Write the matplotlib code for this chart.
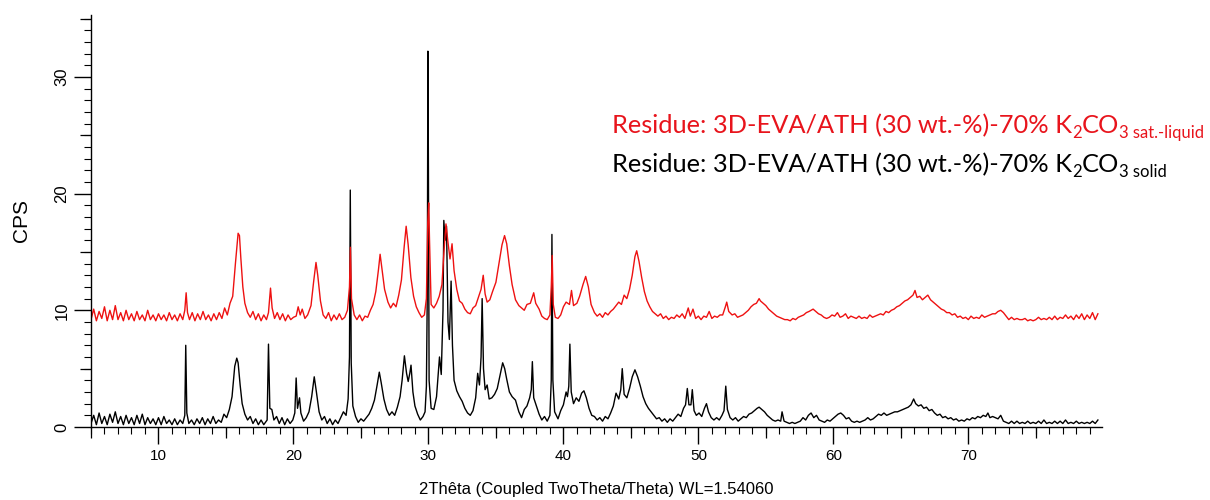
import matplotlib
matplotlib.use("Agg")
import matplotlib.pyplot as plt
from matplotlib.ticker import MultipleLocator

plt.rcParams['font.family'] = ['Liberation Sans', 'DejaVu Sans']

# 3D-EVA/ATH (30 wt.-%)-70% K2CO3 sat.-liquid residue (red)
two_theta_liquid = [
    5.0, 5.2, 5.4, 5.6, 5.8, 6.0, 6.2, 6.4, 6.6, 6.8, 7.0, 7.2, 7.4, 7.6, 7.8, 8.0, 8.2, 8.4, 8.6, 8.8,
    9.0, 9.2, 9.4, 9.6, 9.8, 10.0, 10.2, 10.4, 10.6, 10.8, 11.0, 11.2, 11.4, 11.6, 11.8, 11.95, 12.05, 12.15,
    12.3, 12.5, 12.7, 12.9, 13.1, 13.3, 13.5, 13.7, 13.9, 14.1, 14.3, 14.5, 14.7, 14.9, 15.1, 15.3, 15.5,
    15.7, 15.9, 16.0, 16.1, 16.25, 16.4, 16.6, 16.8, 17.0, 17.2, 17.4, 17.6, 17.8, 18.0, 18.15, 18.3, 18.42,
    18.6, 18.8, 19.0, 19.2, 19.4, 19.6, 19.8, 20.0, 20.2, 20.35, 20.5, 20.65, 20.85, 21.05, 21.3, 21.5,
    21.67, 21.8, 22.0, 22.2, 22.4, 22.6, 22.8, 23.0, 23.2, 23.4, 23.6, 23.8, 24.0, 24.15, 24.22, 24.3,
    24.5, 24.7, 24.9, 25.1, 25.3, 25.5, 25.7, 25.9, 26.1, 26.3, 26.42, 26.55, 26.75, 27.0, 27.2, 27.4,
    27.6, 27.8, 28.0, 28.2, 28.35, 28.5, 28.7, 28.9, 29.1, 29.3, 29.5, 29.7, 29.85, 29.95, 30.02, 30.08,
    30.2, 30.4, 30.6, 30.8, 31.0, 31.15, 31.3, 31.45, 31.6, 31.75, 31.9, 32.1, 32.3, 32.5, 32.7, 32.9,
    33.1, 33.3, 33.5, 33.7, 33.9, 34.06, 34.2, 34.35, 34.55, 34.75, 35.0, 35.2, 35.45, 35.64, 35.8, 36.0,
    36.2, 36.45, 36.7, 36.9, 37.1, 37.3, 37.55, 37.8, 37.95, 38.2, 38.4, 38.6, 38.8, 39.0, 39.1, 39.17,
    39.25, 39.4, 39.6, 39.8, 40.0, 40.2, 40.45, 40.6, 40.75, 41.0, 41.2, 41.45, 41.65, 41.85, 42.05, 42.3,
    42.5, 42.7, 42.9, 43.1, 43.3, 43.5, 43.7, 43.9, 44.1, 44.3, 44.5, 44.7, 44.9, 45.1, 45.3, 45.43, 45.6,
    45.8, 46.0, 46.2, 46.4, 46.6, 46.8, 47.0, 47.2, 47.4, 47.6, 47.8, 48.0, 48.2, 48.4, 48.6, 48.8, 49.0,
    49.25, 49.4, 49.6, 49.8, 50.0, 50.2, 50.4, 50.6, 50.8, 51.0, 51.2, 51.4, 51.6, 51.8, 52.0, 52.1, 52.25,
    52.5, 52.7, 52.9, 53.1, 53.3, 53.5, 53.7, 53.9, 54.1, 54.3, 54.5, 54.6, 54.8, 55.0, 55.2, 55.4, 55.6,
    55.8, 56.0, 56.2, 56.4, 56.6, 56.8, 57.0, 57.2, 57.4, 57.6, 57.8, 58.0, 58.2, 58.5, 58.7, 58.9, 59.1,
    59.3, 59.5, 59.7, 59.9, 60.1, 60.3, 60.5, 60.7, 60.9, 61.1, 61.3, 61.5, 61.7, 61.9, 62.1, 62.3, 62.5,
    62.7, 62.9, 63.1, 63.3, 63.5, 63.7, 63.9, 64.1, 64.3, 64.5, 64.7, 64.9, 65.1, 65.3, 65.5, 65.7, 65.9,
    66.05, 66.2, 66.4, 66.6, 66.8, 67.0, 67.2, 67.4, 67.6, 67.8, 68.0, 68.2, 68.4, 68.6, 68.8, 69.0, 69.2,
    69.4, 69.6, 69.8, 70.0, 70.2, 70.4, 70.6, 70.8, 71.0, 71.2, 71.4, 71.6, 71.8, 72.0, 72.2, 72.4, 72.6,
    72.8, 73.0, 73.2, 73.4, 73.6, 73.8, 74.0, 74.2, 74.4, 74.6, 74.8, 75.0, 75.2, 75.4, 75.6, 75.8, 76.0,
    76.2, 76.4, 76.6, 76.8, 77.0, 77.2, 77.4, 77.6, 77.8, 78.0, 78.2, 78.4, 78.6, 78.8, 79.0, 79.2, 79.4,
    79.6,
]
cps_liquid = [
    9.2, 10.1, 9.1, 9.9, 9.3, 10.3, 9.1, 10.0, 9.2, 10.4, 9.2, 9.8, 9.1, 10.0, 9.2, 9.7, 9.1, 9.9, 9.2, 9.6,
    9.1, 10.0, 9.2, 9.6, 9.1, 9.7, 9.2, 9.6, 9.1, 9.8, 9.2, 9.6, 9.1, 9.7, 9.2, 10.0, 11.5, 9.8,
    9.2, 9.8, 9.1, 9.7, 9.2, 9.9, 9.2, 9.6, 9.1, 9.7, 9.2, 9.8, 9.3, 10.2, 9.6, 10.6, 11.2,
    14.0, 16.6, 16.4, 14.5, 12.0, 10.6, 9.8, 9.4, 9.9, 9.2, 9.7, 9.1, 9.6, 9.2, 9.8, 11.9, 10.2,
    9.3, 9.8, 9.2, 9.7, 9.1, 9.6, 9.2, 9.4, 9.5, 10.3, 9.6, 10.1, 9.3, 9.6, 10.4, 12.5,
    14.1, 13.0, 10.8, 9.6, 9.3, 9.8, 9.1, 9.6, 9.2, 9.7, 9.2, 9.4, 10.0, 12.0, 15.4, 11.0,
    9.6, 9.2, 9.6, 9.1, 9.5, 9.4, 10.0, 10.5, 11.6, 13.5, 14.8, 13.6, 11.8, 10.7, 10.2, 10.6,
    10.3, 11.3, 12.6, 15.4, 17.2, 15.6, 12.8, 11.2, 10.3, 9.8, 9.4, 9.6, 11.0, 17.5, 19.2, 16.0,
    10.5, 10.2, 10.6, 11.2, 12.2, 15.0, 17.4, 15.8, 14.4, 15.7, 13.4, 11.8, 10.8, 10.6, 10.1, 9.8,
    9.7, 10.2, 10.4, 11.1, 11.8, 13.0, 11.4, 10.7, 10.9, 11.6, 12.4, 13.8, 15.6, 16.4, 15.7, 13.8,
    12.2, 10.9, 10.4, 10.2, 10.0, 10.5, 10.6, 11.5, 10.6, 10.1, 9.5, 9.3, 9.2, 9.6, 12.0, 14.7,
    10.5, 9.4, 9.3, 9.6, 10.3, 10.7, 10.5, 11.7, 10.4, 10.6, 11.2, 12.2, 12.9, 12.0, 10.5, 9.8,
    9.5, 9.7, 9.4, 9.8, 9.6, 9.9, 10.1, 10.4, 10.7, 10.5, 11.3, 11.0, 11.8, 13.0, 14.6, 15.1, 14.2,
    12.8, 11.6, 10.8, 10.3, 9.9, 9.7, 9.5, 9.7, 9.3, 9.5, 9.2, 9.4, 9.3, 9.6, 9.4, 9.7, 9.3,
    10.2, 9.5, 10.1, 9.3, 9.5, 9.2, 9.5, 9.4, 9.9, 9.3, 9.5, 9.4, 9.6, 9.6, 10.3, 10.7, 9.9,
    9.6, 9.7, 9.4, 9.5, 9.6, 9.8, 10.0, 10.3, 10.5, 10.6, 11.0, 10.8, 10.6, 10.4, 10.1, 9.9, 9.7,
    9.5, 9.4, 9.3, 9.2, 9.2, 9.1, 9.3, 9.2, 9.4, 9.5, 9.6, 9.8, 9.9, 10.1, 9.9, 9.7, 9.6,
    9.4, 9.3, 9.4, 9.6, 9.5, 9.8, 9.4, 9.5, 9.7, 9.3, 9.5, 9.4, 9.3, 9.5, 9.3, 9.4, 9.3,
    9.6, 9.4, 9.5, 9.6, 9.7, 9.6, 9.9, 9.8, 10.0, 10.1, 10.3, 10.4, 10.6, 10.8, 10.9, 11.1, 11.3,
    11.7, 11.1, 11.2, 10.9, 11.1, 11.3, 10.9, 10.7, 10.5, 10.3, 10.1, 10.0, 9.8, 9.8, 9.6, 9.7, 9.4,
    9.5, 9.3, 9.4, 9.2, 9.5, 9.3, 9.4, 9.3, 9.6, 9.4, 9.5, 9.6, 9.7, 9.7, 9.9, 10.0, 9.8,
    9.5, 9.2, 9.4, 9.2, 9.3, 9.2, 9.2, 9.3, 9.1, 9.2, 9.1, 9.2, 9.4, 9.2, 9.3, 9.2, 9.4,
    9.2, 9.5, 9.2, 9.4, 9.3, 9.6, 9.3, 9.5, 9.2, 9.6, 9.3, 9.7, 9.2, 9.6, 9.3, 9.8, 9.2,
    9.7,
]

# 3D-EVA/ATH (30 wt.-%)-70% K2CO3 solid residue (black)
two_theta_solid = [
    5.0, 5.2, 5.4, 5.6, 5.8, 6.0, 6.2, 6.4, 6.6, 6.8, 7.0, 7.2, 7.4, 7.6, 7.8, 8.0, 8.2, 8.4, 8.6, 8.8,
    9.0, 9.2, 9.4, 9.6, 9.8, 10.0, 10.2, 10.4, 10.6, 10.8, 11.0, 11.2, 11.4, 11.6, 11.8, 11.95, 12.02, 12.1,
    12.25, 12.45, 12.65, 12.85, 13.05, 13.25, 13.45, 13.65, 13.85, 14.05, 14.25, 14.45, 14.65, 14.85,
    15.05, 15.25, 15.45, 15.65, 15.8, 15.9, 16.05, 16.2, 16.4, 16.6, 16.8, 17.0, 17.2, 17.4, 17.6, 17.8,
    18.05, 18.15, 18.25, 18.4, 18.55, 18.75, 18.95, 19.15, 19.35, 19.55, 19.75, 19.95, 20.1, 20.2, 20.3,
    20.45, 20.55, 20.75, 20.95, 21.15, 21.35, 21.54, 21.7, 21.9, 22.1, 22.3, 22.5, 22.7, 22.9, 23.1, 23.3,
    23.5, 23.7, 23.9, 24.05, 24.15, 24.21, 24.28, 24.4, 24.6, 24.8, 25.0, 25.2, 25.4, 25.6, 25.8, 26.0,
    26.2, 26.36, 26.5, 26.7, 26.9, 27.1, 27.3, 27.5, 27.7, 27.9, 28.05, 28.22, 28.38, 28.5, 28.62, 28.71,
    28.85, 29.0, 29.2, 29.4, 29.6, 29.75, 29.85, 29.92, 29.96, 30.0, 30.05, 30.2, 30.4, 30.6, 30.82,
    30.95, 31.08, 31.14, 31.24, 31.34, 31.45, 31.55, 31.68, 31.78, 31.9, 32.1, 32.3, 32.5, 32.7, 32.9,
    33.1, 33.3, 33.5, 33.65, 33.78, 33.9, 33.98, 34.08, 34.2, 34.35, 34.5, 34.7, 34.9, 35.1, 35.3, 35.5,
    35.65, 35.8, 36.0, 36.2, 36.45, 36.7, 36.9, 37.1, 37.3, 37.5, 37.62, 37.7, 37.8, 38.0, 38.2, 38.4,
    38.6, 38.8, 39.0, 39.1, 39.15, 39.22, 39.35, 39.6, 39.8, 40.0, 40.2, 40.3, 40.4, 40.48, 40.58, 40.75,
    40.95, 41.15, 41.35, 41.52, 41.7, 41.9, 42.1, 42.3, 42.5, 42.7, 42.9, 43.1, 43.3, 43.5, 43.7, 43.9,
    44.1, 44.25, 44.36, 44.5, 44.7, 44.9, 45.1, 45.3, 45.5, 45.7, 45.9, 46.1, 46.3, 46.5, 46.7, 46.9,
    47.1, 47.3, 47.5, 47.7, 47.9, 48.1, 48.3, 48.5, 48.7, 48.9, 49.05, 49.18, 49.3, 49.45, 49.55, 49.68,
    49.85, 50.05, 50.25, 50.45, 50.6, 50.75, 50.95, 51.15, 51.35, 51.55, 51.75, 51.9, 52.03, 52.15, 52.35,
    52.55, 52.75, 52.95, 53.15, 53.35, 53.55, 53.75, 53.95, 54.15, 54.35, 54.5, 54.7, 54.9, 55.1, 55.3,
    55.5, 55.7, 55.9, 56.1, 56.2, 56.35, 56.55, 56.75, 56.95, 57.15, 57.35, 57.55, 57.75, 57.95, 58.15,
    58.35, 58.55, 58.75, 58.95, 59.15, 59.35, 59.55, 59.75, 59.95, 60.15, 60.35, 60.55, 60.75, 60.95,
    61.15, 61.35, 61.55, 61.75, 61.95, 62.15, 62.35, 62.55, 62.75, 62.95, 63.15, 63.35, 63.55, 63.75,
    63.95, 64.15, 64.35, 64.55, 64.75, 64.95, 65.15, 65.35, 65.55, 65.75, 65.95, 66.1, 66.3, 66.5, 66.7,
    66.9, 67.1, 67.3, 67.5, 67.7, 67.9, 68.1, 68.3, 68.5, 68.7, 68.9, 69.1, 69.3, 69.5, 69.7, 69.9, 70.1,
    70.3, 70.5, 70.7, 70.9, 71.1, 71.3, 71.45, 71.6, 71.8, 72.0, 72.2, 72.4, 72.6, 72.8, 73.0, 73.2, 73.4,
    73.6, 73.8, 74.0, 74.2, 74.4, 74.6, 74.8, 75.0, 75.2, 75.4, 75.6, 75.8, 76.0, 76.2, 76.4, 76.6, 76.8,
    77.0, 77.2, 77.4, 77.6, 77.8, 78.0, 78.2, 78.4, 78.6, 78.8, 79.0, 79.2, 79.4, 79.6,
]
cps_solid = [
    0.3, 1.0, 0.2, 1.2, 0.3, 0.9, 0.2, 1.1, 0.4, 1.3, 0.3, 0.9, 0.2, 1.0, 0.3, 0.8, 0.2, 1.0, 0.3, 1.1,
    0.2, 0.8, 0.3, 0.7, 0.2, 0.8, 0.2, 0.9, 0.3, 0.6, 0.2, 0.7, 0.2, 0.6, 0.3, 1.0, 7.0, 1.2,
    0.3, 0.6, 0.2, 0.7, 0.3, 0.8, 0.2, 0.7, 0.3, 0.9, 0.3, 0.6, 0.4, 1.1,
    0.8, 1.5, 2.6, 5.2, 5.9, 5.5, 3.6, 2.0, 1.1, 0.6, 0.9, 0.3, 0.7, 0.2, 0.6, 0.2,
    0.6, 7.1, 1.6, 1.5, 0.6, 0.9, 0.3, 0.8, 0.2, 0.7, 0.3, 0.6, 1.2, 4.2, 1.6,
    2.5, 1.2, 0.5, 0.8, 1.3, 2.6, 4.3, 3.0, 1.3, 0.6, 0.9, 0.3, 0.7, 0.2, 0.6, 0.3,
    0.8, 1.3, 1.0, 2.4, 6.0, 20.3, 5.5, 1.8, 0.9, 0.4, 0.7, 0.5, 0.8, 1.1, 1.6, 2.3,
    3.6, 4.7, 3.8, 2.4, 1.5, 1.0, 1.3, 1.0, 1.7, 2.6, 4.0, 6.1, 4.6, 3.9, 4.6, 5.3,
    3.0, 1.8, 1.1, 0.6, 0.9, 1.3, 3.5, 12.0, 32.2, 22.0, 4.0, 1.6, 1.5, 2.6, 6.0,
    4.5, 10.0, 17.7, 16.0, 17.2, 9.0, 7.5, 12.5, 7.0, 4.0, 3.1, 2.6, 2.2, 1.6, 1.2,
    1.0, 1.4, 2.5, 4.6, 3.6, 6.0, 11.0, 5.0, 3.2, 3.6, 2.4, 2.5, 2.8, 3.3, 4.4, 5.5,
    5.0, 4.1, 3.0, 2.6, 2.3, 1.3, 0.8, 1.5, 1.8, 2.5, 3.2, 5.6, 2.5, 1.8, 1.1, 0.6,
    0.9, 0.5, 1.0, 4.0, 16.5, 4.0, 1.3, 0.7, 1.4, 1.9, 3.0, 2.6, 3.5, 7.1, 3.0, 2.0,
    2.5, 2.2, 2.9, 3.1, 2.5, 1.6, 1.0, 0.9, 0.6, 0.8, 0.5, 0.9, 0.7, 1.2, 1.8, 2.9,
    2.4, 3.2, 5.0, 2.8, 2.5, 3.3, 4.3, 4.9, 4.3, 3.5, 2.6, 2.0, 1.6, 1.3, 1.0, 0.7,
    0.8, 0.5, 0.7, 0.4, 0.7, 0.5, 0.8, 1.1, 0.9, 1.6, 1.9, 3.3, 1.9, 1.9, 3.2, 1.4,
    1.0, 1.2, 0.9, 1.6, 2.0, 1.3, 0.8, 0.6, 0.8, 0.6, 1.0, 1.4, 3.5, 1.5, 0.8,
    0.6, 0.8, 0.5, 0.7, 0.9, 0.8, 1.1, 1.2, 1.4, 1.6, 1.7, 1.5, 1.3, 1.0, 0.8,
    0.6, 0.5, 0.6, 0.5, 1.3, 0.5, 0.4, 0.3, 0.4, 0.3, 0.4, 0.5, 0.8, 0.6, 1.0,
    1.2, 0.8, 1.0, 0.6, 0.5, 0.4, 0.6, 0.5, 0.7, 0.9, 1.1, 1.2, 1.0, 0.7,
    0.8, 0.5, 0.4, 0.5, 0.4, 0.5, 0.6, 0.8, 0.6, 0.7, 0.9, 1.1, 1.0, 1.2,
    1.0, 1.1, 1.2, 1.3, 1.3, 1.4, 1.5, 1.6, 1.7, 1.9, 2.4, 2.0, 1.8, 1.9, 1.6,
    1.7, 1.4, 1.5, 1.2, 1.0, 1.1, 0.8, 0.9, 0.7, 0.8, 0.6, 0.7, 0.5, 0.6, 0.5, 0.7, 0.6,
    0.8, 0.7, 0.9, 0.8, 1.0, 0.9, 1.2, 0.8, 0.9, 0.8, 0.7, 1.0, 0.5, 0.4, 0.3, 0.5, 0.3,
    0.5, 0.3, 0.4, 0.3, 0.5, 0.3, 0.4, 0.3, 0.5, 0.3, 0.6, 0.3, 0.4, 0.3, 0.5, 0.3, 0.5,
    0.3, 0.6, 0.3, 0.4, 0.3, 0.5, 0.3, 0.4, 0.3, 0.4, 0.3, 0.5, 0.3, 0.6,
]

x_label = "2Thêta (Coupled TwoTheta/Theta) WL=1.54060"
y_label = "CPS"

fig = plt.figure(figsize=(12.1, 5.0), dpi=100)
ax = fig.add_axes([0.0752, 0.146, 0.8355, 0.824])

ax.plot(two_theta_solid, cps_solid, color='black', lw=1.0)
ax.plot(two_theta_liquid, cps_liquid, color='#ee1111', lw=1.0)

ax.set_xlim(5, 79.9)
ax.set_ylim(0, 35.3)
for s in ['top', 'right']:
    ax.spines[s].set_visible(False)
for s in ['left', 'bottom']:
    ax.spines[s].set_linewidth(1.0)

ax.xaxis.set_major_locator(MultipleLocator(10))
ax.xaxis.set_minor_locator(MultipleLocator(1))
ax.yaxis.set_major_locator(MultipleLocator(10))
ax.yaxis.set_minor_locator(MultipleLocator(1))
ax.tick_params(which='major', length=12, width=1, labelsize=11)
ax.tick_params(which='minor', length=5, width=0.8)
ax.tick_params(axis='y', labelsize=12)
for lab in ax.get_yticklabels():
    lab.set_rotation(90)
    lab.set_va('center')

# medium ticks at the fives
sec_x = ax.secondary_xaxis('bottom')
sec_x.set_xticks(list(range(5, 80, 10)))
sec_x.tick_params(length=8, width=0.9, labelbottom=False)
sec_x.spines['bottom'].set_visible(False)
sec_y = ax.secondary_yaxis('left')
sec_y.set_yticks([5, 15, 25, 35])
sec_y.tick_params(length=8, width=0.9, labelleft=False)
sec_y.spines['left'].set_visible(False)

ax.set_xlabel(x_label, fontsize=12, labelpad=14)
fig.text(0.018, 0.558, y_label, rotation=90, fontsize=15, va='center', ha='center')


def legend_line(x, y, color, parts):
    first = fig.text(x, y, parts[0][0], color=color, fontsize=parts[0][1],
                     family='Lato', va='bottom')
    prev = first
    for txt, size, dy in parts[1:]:
        prev = ax.annotate(txt, xy=(1, 0), xycoords=(prev, first),
                           xytext=(0, dy), textcoords='offset points',
                           color=color, fontsize=size, family='Lato', va='bottom')


main = "Residue: 3D-EVA/ATH (30 wt.-%)-70% K"
legend_line(0.506, 0.726, '#e8141c',
            [(main, 18.3), ("2", 12, -3), ("CO", 18.3, 0), ("3 sat.-liquid", 12, -3)])
legend_line(0.506, 0.648, 'black',
            [(main, 18.3), ("2", 12, -3), ("CO", 18.3, 0), ("3 solid", 12, -3)])

fig.savefig("out.png", dpi=100)
